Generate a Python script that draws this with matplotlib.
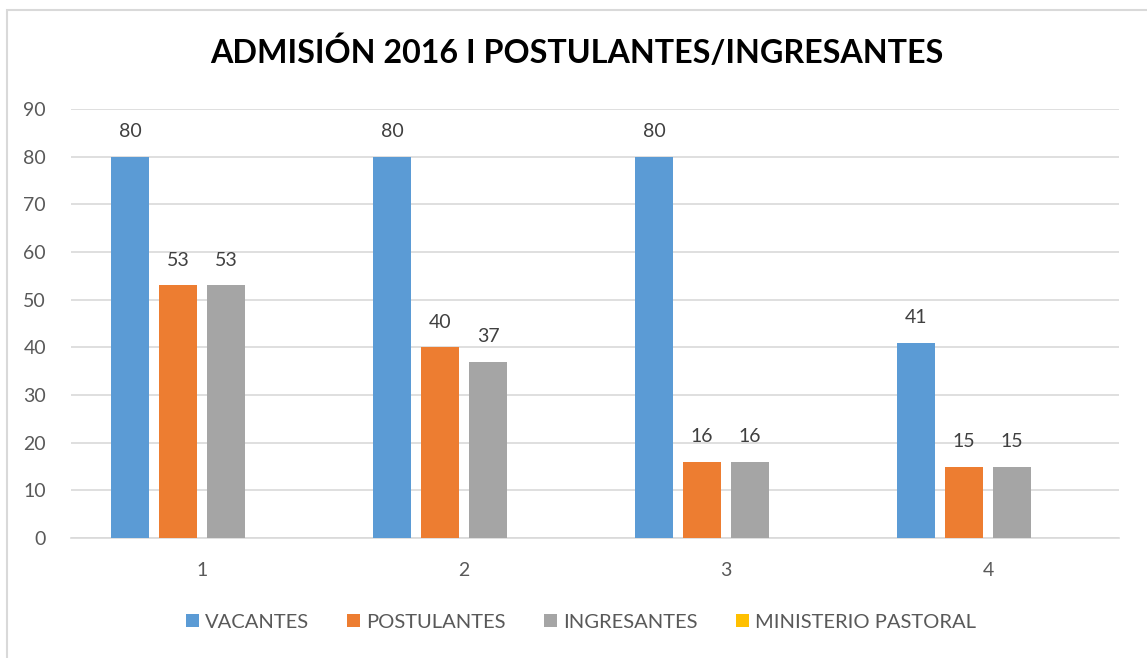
import matplotlib
matplotlib.use("Agg")
import matplotlib.pyplot as plt
import numpy as np
from matplotlib.patches import Rectangle

plt.rcParams["font.family"] = ["Lato", "DejaVu Sans"]

categories = ["1", "2", "3", "4"]
series_names = ["VACANTES", "POSTULANTES", "INGRESANTES", "MINISTERIO PASTORAL"]
vacantes = [80, 80, 80, 41]
postulantes = [53, 40, 16, 15]
ingresantes = [53, 37, 16, 15]
ministerio = [None, None, None, None]
colors = ["#5b9bd5", "#ed7d31", "#a5a5a5", "#ffc000"]
y_ticks = list(range(0, 100, 10))

W, H = 1147, 658
fig = plt.figure(figsize=(W / 100, H / 100), dpi=100)
ax = fig.add_axes([71 / W, 1 - 538 / H, (1119 - 71) / W, (538 - 109) / H])

# outer chart border (partly cut off on right and bottom)
fig.patches.append(Rectangle((7 / W, -0.05), 1.2, 1 - 10 / H + 0.05,
                             transform=fig.transFigure, fill=False,
                             edgecolor="#d9d9d9", linewidth=1.5))

x = np.arange(len(categories))
bar_w = 38 / 262
step = 48 / 262
all_series = [vacantes, postulantes, ingresantes, ministerio]
for i, (vals, name, col) in enumerate(zip(all_series, series_names, colors)):
    offs = (i - 1.5) * step
    heights = [v if v is not None else 0 for v in vals]
    bars = ax.bar(x + offs, heights, width=bar_w, color=col, label=name, zorder=3)
    for b, v in zip(bars, vals):
        if v is None:
            continue
        ax.annotate(str(v), (b.get_x() + b.get_width() / 2, v),
                    xytext=(0, 18), textcoords="offset points",
                    ha="center", va="center", fontsize=14, color="#404040")

ax.set_xlim(-0.5, len(categories) - 0.5)
ax.set_ylim(0, 90)
ax.set_yticks(y_ticks)
ax.set_xticks(x)
ax.set_xticklabels(categories)
ax.grid(axis="y", color="#d9d9d9", linewidth=1.2, zorder=0)
for s in ["top", "right", "left"]:
    ax.spines[s].set_visible(False)
ax.spines["bottom"].set_color("#d9d9d9")
ax.spines["bottom"].set_linewidth(1.2)
ax.tick_params(axis="both", length=0, labelsize=14, labelcolor="#595959")
ax.tick_params(axis="y", pad=18)
ax.tick_params(axis="x", pad=17)

fig.text(577 / W, 1 - 52 / H, "ADMISIÓN 2016 I POSTULANTES/INGRESANTES",
         ha="center", va="center", fontsize=23.2, fontweight="bold", color="black")

fig.legend(loc="center", bbox_to_anchor=(581 / W, 1 - 622 / H), ncol=4,
           frameon=False, fontsize=14.5, labelcolor="#595959",
           handlelength=0.65, handleheight=0.65, handletextpad=0.3,
           columnspacing=1.9)

fig.savefig("out.png", dpi=100)
